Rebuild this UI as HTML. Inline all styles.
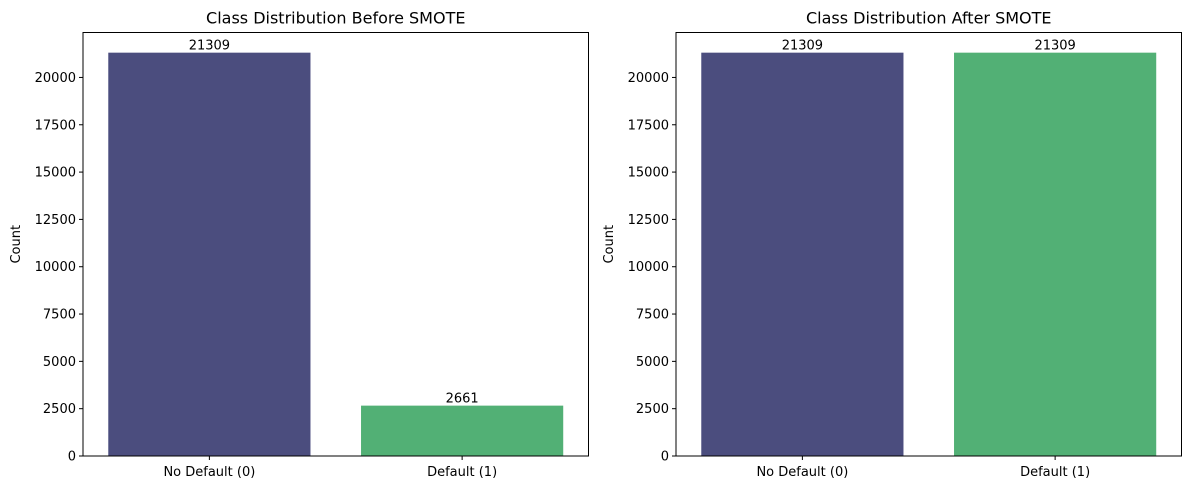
<!DOCTYPE html>
<html><head><meta charset="utf-8"><style>
body{margin:0;background:#fff;font-family:"Liberation Sans","DejaVu Sans",sans-serif}
svg text{font-family:"DejaVu Sans","Liberation Sans",sans-serif}
</style></head><body>
<svg id="c" width="1189" height="490"></svg>
<script>
const categories=["No Default (0)","Default (1)"];
const beforeValues=[21309,2661];
const afterValues=[21309,21309];
const yTicks=[0,2500,5000,7500,10000,12500,15000,17500,20000];
const titles=["Class Distribution Before SMOTE","Class Distribution After SMOTE"];
const colors=["#4b4d7e","#52b075"];
const NS="http://www.w3.org/2000/svg";
const svg=document.getElementById('c');
function el(t,a,p){const e=document.createElementNS(NS,t);for(const k in a)e.setAttribute(k,a[k]);(p||svg).appendChild(e);return e;}
const plotTop=32.5,plotBottom=456,ymax=21309*1.05;
function y(v){return plotBottom-v/ymax*(plotBottom-plotTop);}
function drawPanel(x0,values,title,idx){
  const w=505.5;
  const g=el('g',{});
  
  
  const xs=i=>x0+(i+0.5)*w/2;
  const bw=0.8*w/2;
  values.forEach((v,i)=>{
    const r=el('rect',{x:xs(i)-bw/2,y:y(v),width:bw,height:plotBottom-y(v),fill:colors[i]},g);
    
    
    const t=el('text',{x:xs(i),y:y(v)-3,'text-anchor':'middle','font-size':'13'},g);
    t.textContent=v;
    
    
    el('line',{x1:xs(i),x2:xs(i),y1:plotBottom,y2:plotBottom+4,stroke:'#000'},g);
    const xl=el('text',{x:xs(i),y:plotBottom+20,'text-anchor':'middle','font-size':'13'},g);
    xl.textContent=categories[i];
    
    
  });
  yTicks.forEach(v=>{
    el('line',{x1:x0-4,x2:x0,y1:y(v),y2:y(v),stroke:'#000'},g);
    const t=el('text',{x:x0-7,y:y(v)+4.5,'text-anchor':'end','font-size':'13'},g);
    t.textContent=v;
    
    
  });
  const f=el('rect',{x:x0,y:plotTop,width:w,height:plotBottom-plotTop,fill:'none',stroke:'#000','stroke-width':1},g);
  
  
  const tt=el('text',{x:x0+w/2,y:plotTop-9,'text-anchor':'middle','font-size':'16'},g);
  tt.textContent=title;
  
  
  const yl=el('text',{x:0,y:0,'text-anchor':'middle','font-size':'13',transform:`translate(${x0-63},${(plotTop+plotBottom)/2}) rotate(-90)`},g);
  yl.textContent='Count';
  
  
}
drawPanel(83,beforeValues,titles[0],'before');
drawPanel(676,afterValues,titles[1],'after');
</script>
</body></html>
